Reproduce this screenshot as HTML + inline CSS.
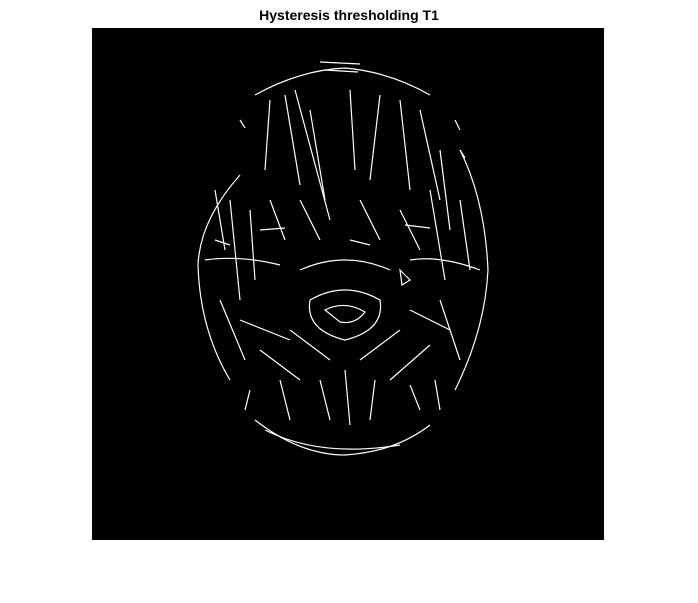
<!DOCTYPE html>
<html><head><meta charset="utf-8"><style>
html,body{margin:0;padding:0;background:#fff;width:698px;height:603px;overflow:hidden}
#title{position:absolute;left:0;width:698px;top:7px;text-align:center;font:bold 14px "Liberation Sans",sans-serif;color:#000}
svg{position:absolute;left:0;top:0}
</style></head><body>
<div id="title">Hysteresis thresholding T1</div>
<svg width="698" height="603">
<rect x="92" y="28" width="512" height="512" fill="#000"/>
<g stroke="#fff" stroke-width="1.2" fill="none">
<path d="M240 175 Q200 220 198 265 Q200 330 230 380"/>
<path d="M460 150 Q485 200 488 270 Q485 330 455 390"/>
<path d="M255 95 Q300 70 345 68 Q390 72 430 95"/>
<path d="M255 420 Q300 455 345 455 Q395 452 430 425"/>
<path d="M265 430 Q320 458 400 445"/>
<path d="M270 100 L265 170 M285 95 L300 185 M295 90 L330 220 M310 110 L325 200 M350 90 L355 170 M380 95 L370 180 M400 100 L410 190 M420 110 L440 200 M440 150 L450 230"/>
<path d="M215 190 L225 250 M230 200 L240 300 M250 210 L255 280 M270 200 L285 240 M300 200 L320 240 M360 200 L380 240 M400 210 L420 250 M430 190 L445 280 M460 200 L470 270"/>
<path d="M205 260 Q240 255 280 265 M300 270 Q345 250 390 270 M410 260 Q440 255 480 270"/>
<path d="M310 300 Q345 280 380 300 Q385 330 345 340 Q305 330 310 300 Z"/>
<path d="M325 310 Q345 300 365 312 Q355 325 340 322 Z"/>
<path d="M220 300 L245 360 M240 320 L290 340 M260 350 L300 380 M290 330 L330 360 M360 360 L400 330 M390 380 L430 345 M410 310 L450 330 M440 300 L460 360"/>
<path d="M250 390 L245 410 M280 380 L290 420 M320 380 L330 420 M345 370 L350 425 M375 380 L370 420 M410 385 L420 410 M435 380 L440 410"/>
<path d="M320 62 L360 64 M325 70 L358 72 M240 120 L245 128 M455 120 L460 130 M460 150 L465 158"/>
<path d="M215 240 L230 245 M400 270 L410 280 L402 285 Z M350 240 L370 245 M260 230 L285 228 M405 225 L430 228"/>
</g></svg>
</body></html>
